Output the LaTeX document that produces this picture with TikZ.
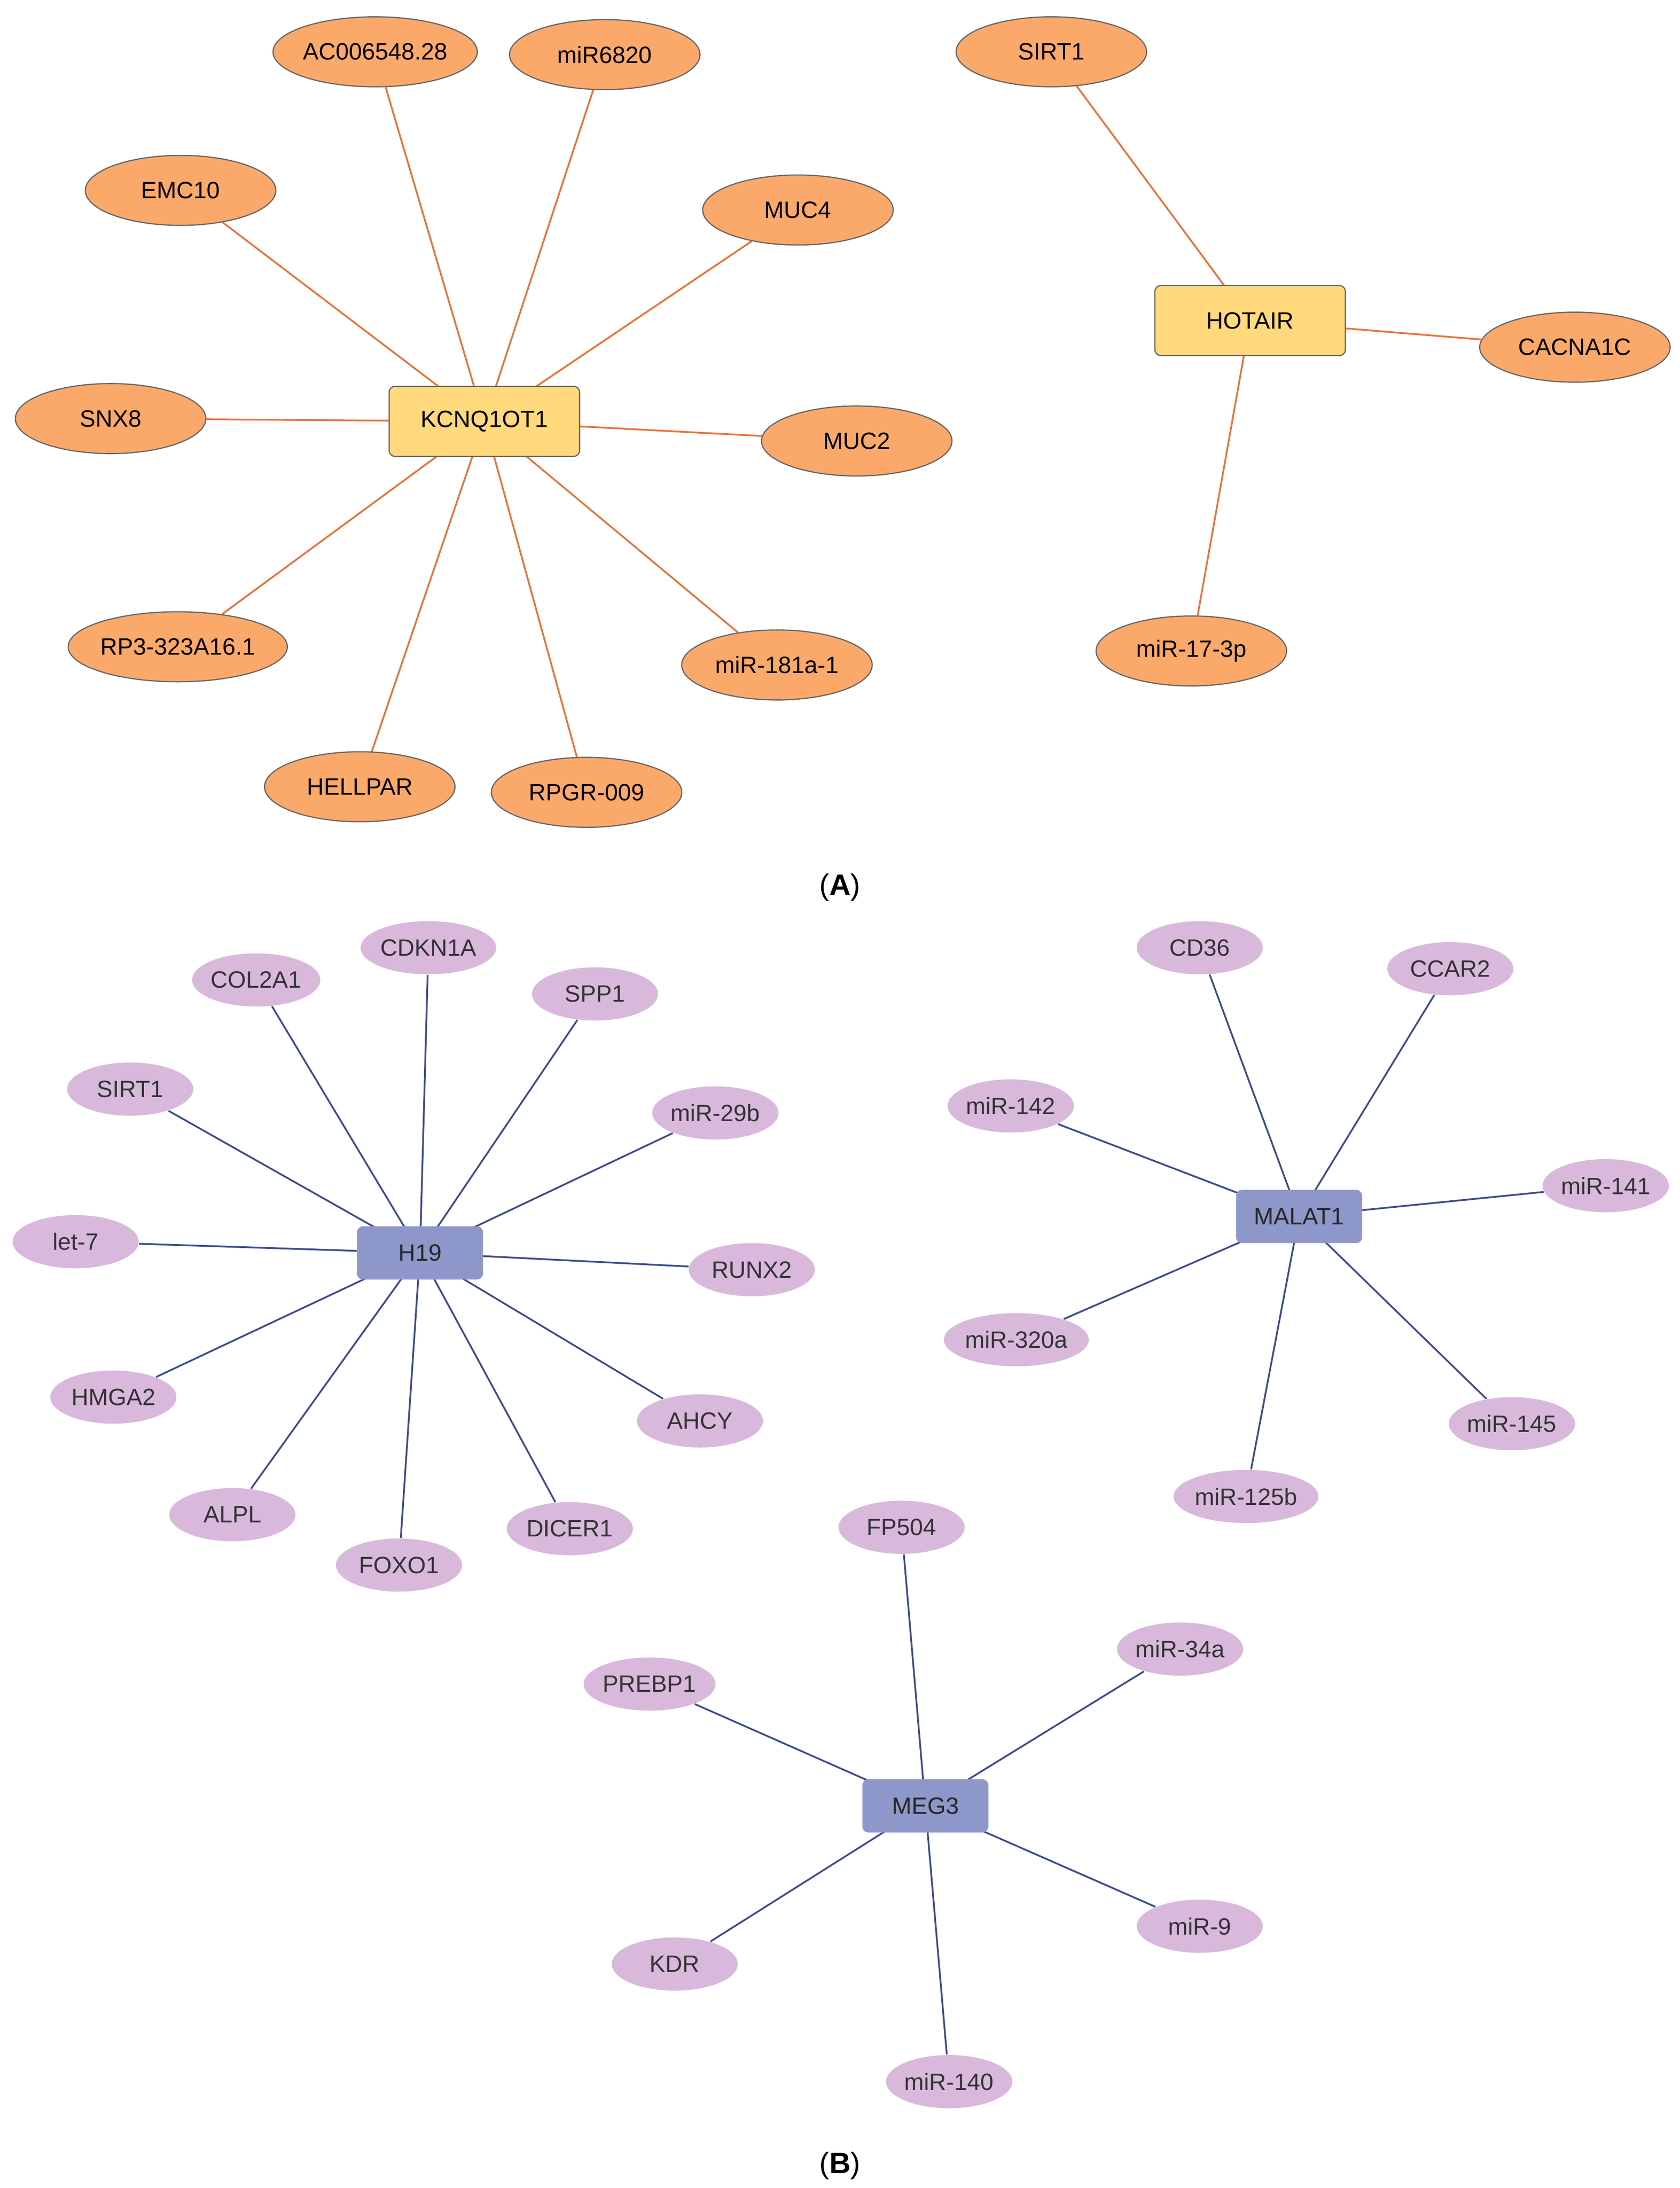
\documentclass[tikz,border=0pt]{standalone}
\usepackage{fontspec}
\setmainfont{Liberation Sans}
\usetikzlibrary{shapes.geometric,backgrounds}
\definecolor{orfill}{HTML}{FBA96B}
\definecolor{hubA}{HTML}{FFD97C}
\definecolor{edgeA}{HTML}{E8743B}
\definecolor{pufill}{HTML}{D8B9DC}
\definecolor{hubB}{HTML}{8E97C9}
\definecolor{edgeB}{HTML}{3E4C8E}
\tikzset{
 oe/.style={ellipse,draw=gray!80!black,fill=orfill,minimum width=2.267cm,minimum height=0.833cm,inner sep=0pt,font=\fontsize{8}{9}\selectfont},
 ha/.style={rectangle,rounded corners=2pt,draw=gray!80!black,fill=hubA,minimum width=2.267cm,minimum height=0.833cm,font=\fontsize{8}{9}\selectfont},
 pe/.style={ellipse,fill=pufill,minimum width=1.5cm,minimum height=0.633cm,inner sep=0pt,text=black!80,font=\fontsize{8}{9}\selectfont},
 hb/.style={rectangle,rounded corners=2pt,fill=hubB,minimum width=1.5cm,minimum height=0.633cm,text=black!85,font=\fontsize{8}{9}\selectfont},
 ea/.style={draw=edgeA,line width=0.6pt},
 eb/.style={draw=edgeB,line width=0.6pt},
}
\begin{document}
\begin{tikzpicture}[x=0.0166667cm,y=-0.0166667cm]
\useasboundingbox (0,0) rectangle (1200,1563);
\node[ha] (K) at (346,301) {KCNQ1OT1};
\node[oe] (a1) at (268,37) {AC006548.28};
\node[oe] (a2) at (432,39) {miR6820};
\node[oe] (a3) at (129,136) {EMC10};
\node[oe] (a4) at (570,150) {MUC4};
\node[oe] (a5) at (79,299) {SNX8};
\node[oe] (a6) at (612,315) {MUC2};
\node[oe] (a7) at (127,462) {RP3-323A16.1};
\node[oe] (a8) at (555,475) {miR-181a-1};
\node[oe] (a9) at (257,562) {HELLPAR};
\node[oe] (a10) at (419,566) {RPGR-009};
\node[ha] (HO) at (893,229) {HOTAIR};
\node[oe] (b1) at (751,37) {SIRT1};
\node[oe] (b2) at (1125,248) {CACNA1C};
\node[oe] (b3) at (851,465) {miR-17-3p};
\node (LA) at (600,634) {(\textbf{A})};
\node (LB) at (600,1547) {(\textbf{B})};
\node[hb] (H) at (300,895) {H19};
\node[pe] (c1) at (183,700) {COL2A1};
\node[pe] (c2) at (306,677) {CDKN1A};
\node[pe] (c3) at (425,710) {SPP1};
\node[pe] (c4) at (93,778) {SIRT1};
\node[pe] (c5) at (511,795) {miR-29b};
\node[pe] (c6) at (54,887) {let-7};
\node[pe] (c7) at (537,907) {RUNX2};
\node[pe] (c8) at (81,998) {HMGA2};
\node[pe] (c9) at (500,1015) {AHCY};
\node[pe] (c10) at (166,1082) {ALPL};
\node[pe] (c11) at (285,1118) {FOXO1};
\node[pe] (c12) at (407,1092) {DICER1};
\node[hb] (M) at (928,869) {MALAT1};
\node[pe] (d1) at (857,677) {CD36};
\node[pe] (d2) at (1036,692) {CCAR2};
\node[pe] (d3) at (722,790) {miR-142};
\node[pe] (d4) at (1147,847) {miR-141};
\node[pe] (d5) at (726,957) {miR-320a};
\node[pe] (d6) at (1080,1017) {miR-145};
\node[pe] (d7) at (890,1069) {miR-125b};
\node[hb] (G) at (661,1290) {MEG3};
\node[pe] (e1) at (644,1091) {FP504};
\node[pe] (e2) at (843,1178) {miR-34a};
\node[pe] (e3) at (464,1203) {PREBP1};
\node[pe] (e4) at (857,1376) {miR-9};
\node[pe] (e5) at (482,1403) {KDR};
\node[pe] (e6) at (678,1487) {miR-140};
\begin{scope}[on background layer]
\foreach \n in {a1,a2,a3,a4,a5,a6,a7,a8,a9,a10} \draw[ea] (K.center) -- (\n);
\foreach \n in {b1,b2,b3} \draw[ea] (HO.center) -- (\n);
\foreach \n in {c1,c2,c3,c4,c5,c6,c7,c8,c9,c10,c11,c12} \draw[eb] (H.center) -- (\n);
\foreach \n in {d1,d2,d3,d4,d5,d6,d7} \draw[eb] (M.center) -- (\n);
\foreach \n in {e1,e2,e3,e4,e5,e6} \draw[eb] (G.center) -- (\n);
\end{scope}
\end{tikzpicture}
\end{document}
